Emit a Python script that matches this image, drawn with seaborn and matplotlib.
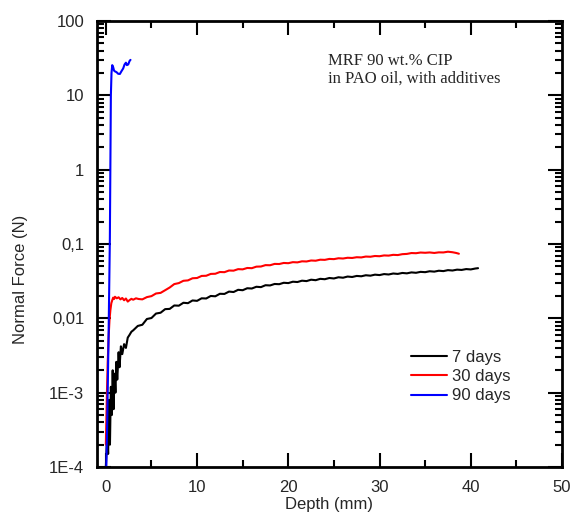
import numpy as np
import pandas as pd
import seaborn as sns
import matplotlib
matplotlib.use("Agg")
import matplotlib.pyplot as plt
from matplotlib.ticker import FixedLocator, FixedFormatter, LogLocator, MultipleLocator, NullFormatter

# data (depth in mm, normal force in N)
depth_7 = [0.0, 0.15, 0.25, 0.35, 0.45, 0.55, 0.65, 0.75, 0.85, 0.95, 1.05, 1.15, 1.25, 1.4, 1.5,
           1.65, 1.8, 2.0, 2.2, 2.4, 2.6, 2.8,
           3.0, 3.5, 4.0, 4.5, 5.0, 5.5, 6.0, 6.5, 7.0, 7.5, 8.0, 8.5, 9.0, 9.5, 10.0, 10.5,
           11.0, 11.5, 12.0, 12.5, 13.0, 13.5, 14.0, 14.5, 15.0, 15.5, 16.0, 16.5, 17.0, 17.5,
           18.0, 18.5, 19.0, 19.5, 20.0, 20.5, 21.0, 21.5, 22.0, 22.5, 23.0, 23.5, 24.0, 24.5,
           25.0, 25.5, 26.0, 26.5, 27.0, 27.5, 28.0, 28.5, 29.0, 29.5, 30.0, 30.5, 31.0, 31.5,
           32.0, 32.5, 33.0, 33.5, 34.0, 34.5, 35.0, 35.5, 36.0, 36.5, 37.0, 37.5, 38.0, 38.5,
           39.0, 39.5, 40.0, 40.5, 40.8]
force_7 = [0.0001, 0.0003, 0.00015, 0.0008, 0.0002, 0.0012, 0.0005, 0.002, 0.0006, 0.0018,
           0.001, 0.0026, 0.0015, 0.0035, 0.0022, 0.0042, 0.0033, 0.0045, 0.004, 0.0055, 0.006,
           0.0066,
           0.0069, 0.0079, 0.0082, 0.0098, 0.0101, 0.0116, 0.0119, 0.0133, 0.0134, 0.0149,
           0.0148, 0.0162, 0.016, 0.0174, 0.0172, 0.0186, 0.0185, 0.02, 0.0198, 0.0214, 0.0213,
           0.0229, 0.0226, 0.0242, 0.0239, 0.0254, 0.0252, 0.0266, 0.0263, 0.0279, 0.0277,
           0.029, 0.0288, 0.0301, 0.0298, 0.0311, 0.0308, 0.0321, 0.0317, 0.0331, 0.0326, 0.034,
           0.0336, 0.0349, 0.0344, 0.0357, 0.0352, 0.0365, 0.036, 0.0372, 0.0368, 0.038, 0.0375,
           0.0387, 0.0382, 0.0394, 0.0389, 0.0401, 0.0396, 0.0408, 0.0403, 0.0415, 0.041, 0.0422,
           0.0418, 0.043, 0.0425, 0.0437, 0.0432, 0.0445, 0.044, 0.0452, 0.0448, 0.046, 0.0455,
           0.0468, 0.0473]

depth_30 = [0.0, 0.1, 0.2, 0.3, 0.4, 0.5, 0.6, 0.7, 0.8, 0.9, 1.0, 1.2, 1.4, 1.6, 1.8, 2.0, 2.2,
            2.4, 2.6, 2.8, 3.0, 3.3, 3.6,
            4.0, 4.5, 5.0, 5.5, 6.0, 6.5, 7.0, 7.5, 8.0, 8.5, 9.0, 9.5, 10.0, 10.5, 11.0, 11.5,
            12.0, 12.5, 13.0, 13.5, 14.0, 14.5, 15.0, 15.5, 16.0, 16.5, 17.0, 17.5, 18.0, 18.5,
            19.0, 19.5, 20.0, 20.5, 21.0, 21.5, 22.0, 22.5, 23.0, 23.5, 24.0, 24.5, 25.0, 25.5,
            26.0, 26.5, 27.0, 27.5, 28.0, 28.5, 29.0, 29.5, 30.0, 30.5, 31.0, 31.5, 32.0, 32.5,
            33.0, 33.5, 34.0, 34.5, 35.0, 35.5, 36.0, 36.5, 37.0, 37.5, 38.0, 38.4, 38.7]
force_30 = [0.0002, 0.0008, 0.0025, 0.0055, 0.0095, 0.013, 0.016, 0.0175, 0.019, 0.0182, 0.0195,
            0.0186, 0.0192, 0.018, 0.0188, 0.0175, 0.0185, 0.0168, 0.0176, 0.0183, 0.0178,
            0.0186, 0.0182,
            0.018, 0.0193, 0.0199, 0.0216, 0.022, 0.0239, 0.026, 0.0289, 0.0298, 0.032, 0.0324,
            0.0346, 0.0349, 0.0372, 0.0374, 0.0396, 0.0398, 0.042, 0.0418, 0.044, 0.0438, 0.0459,
            0.0456, 0.0476, 0.0473, 0.0496, 0.0498, 0.052, 0.0518, 0.054, 0.0538, 0.0556, 0.0552,
            0.057, 0.0566, 0.0585, 0.0582, 0.06, 0.0596, 0.0615, 0.0612, 0.063, 0.0626, 0.0643,
            0.0638, 0.0653, 0.0649, 0.0664, 0.066, 0.0678, 0.0674, 0.069, 0.0685, 0.0702, 0.0698,
            0.0715, 0.071, 0.073, 0.0736, 0.0756, 0.0752, 0.0768, 0.0762, 0.077, 0.0758, 0.0772,
            0.077, 0.0788, 0.0775, 0.0758, 0.074]

depth_90 = [0.0, 0.15, 0.3, 0.44, 0.55, 0.62, 0.7, 0.8, 0.9, 1.0, 1.17, 1.35, 1.54, 1.7, 1.9,
            2.05, 2.2, 2.3, 2.45, 2.6, 2.7]
force_90 = [5e-5, 4e-4, 6e-3, 0.12, 10, 20, 25.5, 24, 21.5, 21, 20.5, 19.5, 19.4, 21, 23,
            26, 27.5, 25.5, 26, 29, 30]

labels = ["7 days", "30 days", "90 days"]
y_ticks = [1e-4, 1e-3, 1e-2, 1e-1, 1, 10, 100]
y_tick_labels = ["1E-4", "1E-3", "0,01", "0,1", "1", "10", "100"]
x_ticks = [0, 10, 20, 30, 40, 50]
note = "MRF 90 wt.% CIP\nin PAO oil, with additives"

df = pd.concat([
    pd.DataFrame({"depth": depth_7, "force": force_7, "sample": labels[0]}),
    pd.DataFrame({"depth": depth_30, "force": force_30, "sample": labels[1]}),
    pd.DataFrame({"depth": depth_90, "force": force_90, "sample": labels[2]}),
], ignore_index=True)

sns.set_style("ticks")
plt.rcParams["font.family"] = ["Liberation Sans", "DejaVu Sans"]

fig = plt.figure(figsize=(5.71, 5.2), dpi=100)
ax = fig.add_axes([0.1694, 0.1019, 0.8148, 0.8577])

sns.lineplot(data=df, x="depth", y="force", hue="sample", sort=False, estimator=None,
             palette=["black", "red", "blue"], linewidth=1.5, ax=ax)

ax.set_yscale("log")
ax.set_xlim(-1, 50)
ax.set_ylim(1e-4, 100)

ax.yaxis.set_major_locator(FixedLocator(y_ticks))
ax.yaxis.set_major_formatter(FixedFormatter(y_tick_labels))
ax.yaxis.set_minor_locator(LogLocator(base=10, subs=np.arange(2, 10)))
ax.yaxis.set_minor_formatter(NullFormatter())
ax.xaxis.set_major_locator(FixedLocator(x_ticks))
ax.xaxis.set_minor_locator(MultipleLocator(5))

for side in ["left", "right", "top", "bottom"]:
    ax.spines[side].set_visible(True)
    ax.spines[side].set_linewidth(2.0)
    ax.spines[side].set_color("black")

ax.tick_params(which="both", direction="in", top=True, right=True, color="black", width=1.5)
ax.tick_params(which="major", length=10, labelsize=12, pad=9)
ax.tick_params(which="minor", length=5)

ax.set_xlabel("Depth (mm)", fontsize=12, labelpad=2)
ax.set_ylabel("Normal Force (N)", fontsize=12)
ax.yaxis.set_label_coords(-0.148, 0.42)

ax.legend(loc="upper left", bbox_to_anchor=(0.675, 0.262), frameon=False, fontsize=12,
          handlelength=2.2, handletextpad=0.3, labelspacing=0.25, borderpad=0, borderaxespad=0)

ax.text(0.497, 0.928, note, transform=ax.transAxes, ha="left", va="top", fontsize=12,
        family=["Liberation Serif", "DejaVu Serif"], linespacing=1.1)

fig.savefig("out.png", dpi=100)
